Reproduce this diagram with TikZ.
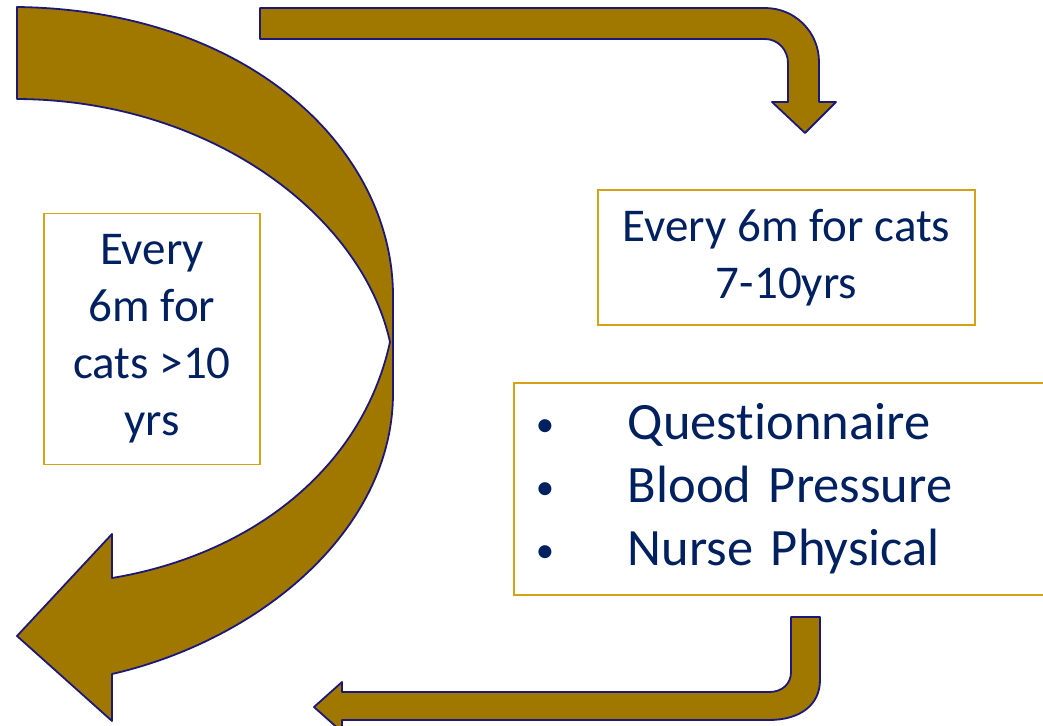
\documentclass[tikz,border=0pt]{standalone}
\usepackage{fontspec}
\setmainfont[Ligatures=NoCommon]{Carlito}

\definecolor{ocre}{RGB}{160,120,0}
\definecolor{trait}{RGB}{28,24,120}
\definecolor{texte}{RGB}{0,32,96}
\definecolor{cadre}{RGB}{212,162,20}

\tikzset{
  fleche/.style={fill=ocre, draw=trait, line width=1.8pt, line join=round},
  boite/.style={draw=cadre, line width=1.8pt, fill=white, text=texte, inner sep=0pt,
    font=\fontsize{47}{57}\selectfont},
}
\newcommand{\puce}{\makebox[92pt][l]{\raisebox{3pt}{\scalebox{0.7}{\textbullet}}}}

\begin{document}
\begin{tikzpicture}[x=1pt,y=-1pt]
    % Cadre de l'image
    \useasboundingbox (0,0) rectangle (1043,725);
    \clip (0,0) rectangle (1043,725);

    % Grande flèche courbe (gauche)
    \draw[fleche] (17,7) .. controls (250,10) and (393,150) .. (393,296)
        -- (393,393) .. controls (393,530) and (260,640) .. (112,674)
        -- (112,721) -- (17,636) -- (112,534) -- (112,578)
        .. controls (250,555) and (362,470) .. (390,342)
        .. controls (362,215) and (210,100) .. (17,99) -- cycle;

    % Flèche du haut
    \draw[fleche] (260,8) -- (765,8) .. controls (795,8) and (819,32) .. (819,62)
        -- (819,102) -- (836,102) -- (805,133) -- (772,102) -- (788,102)
        -- (788,63) .. controls (788,50) and (778,39) .. (765,39)
        -- (260,39) -- cycle;

    % Flèche du bas
    \draw[fleche] (791,617) -- (820,617) -- (820,680)
        .. controls (820,705) and (800,720) .. (769,720)
        -- (342,720) -- (342,732) -- (314,707) -- (342,682) -- (342,692)
        -- (769,692) .. controls (782,692) and (791,684) .. (791,672) -- cycle;

    % Boîtes de texte
    \node[boite, minimum width=216pt, minimum height=251pt, align=center]
        (plusdix) at (152,339) {Every\\6m for\\cats >10\\yrs};
    \node[boite, minimum width=377pt, minimum height=135pt, align=center]
        (septdix) at (786.5,257.5) {Every 6m for cats\\7-10yrs};
    \node[boite, minimum width=560pt, minimum height=212pt, anchor=north west,
        align=left, text width=520pt, inner xsep=22pt,
        font=\fontsize{52.5}{63}\selectfont]
        (examens) at (513,382)
        {\puce Questionnaire\\
         \puce Blood Pressure\\
         \puce Nurse Physical};

\end{tikzpicture}
\end{document}
